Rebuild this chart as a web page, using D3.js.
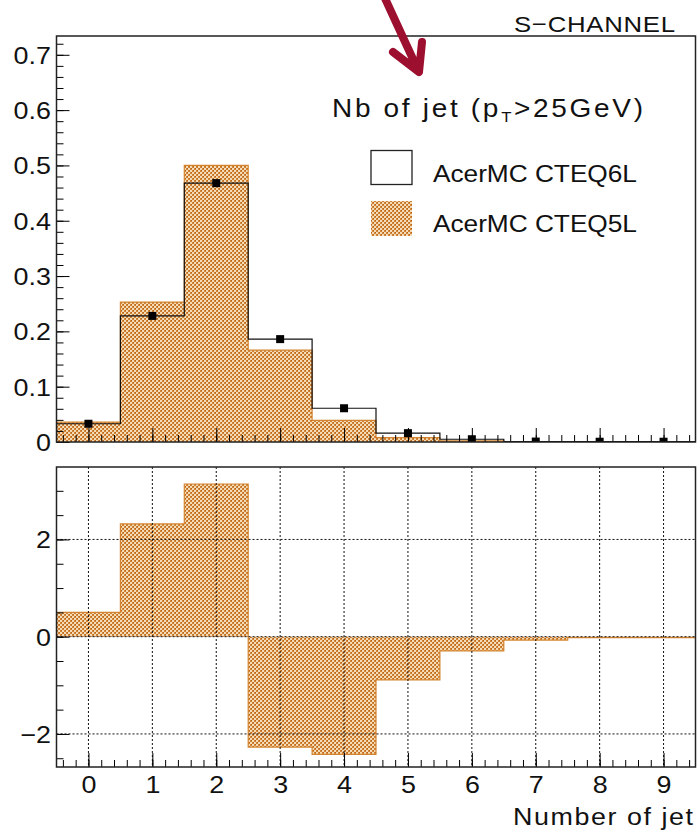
<!DOCTYPE html>
<html>
<head>
<meta charset="utf-8">
<script src="https://cdn.jsdelivr.net/npm/d3@7"></script>
<style>
body { margin: 0; background: #fff; }
text { font-family: "Liberation Sans", Arial, sans-serif; fill: #111; }
</style>
</head>
<body>
<svg id="chart" width="699" height="830"></svg>
<script>
// bins of jet multiplicity
var nJet = [0, 1, 2, 3, 4, 5, 6, 7, 8, 9];
// normalised distributions
var cteq6l = [0.033, 0.228, 0.468, 0.186, 0.061, 0.016, 0.005, 0.0008, 0.0005, 0.0005];
var cteq5l = [0.036, 0.253, 0.500, 0.166, 0.039, 0.008, 0.002, 0.0004, 0.0002, 0.0002];
// lower pad
var diff = [0.50, 2.32, 3.14, -2.27, -2.42, -0.89, -0.29, -0.07, -0.02, -0.02];

var topTicks = [0, 0.1, 0.2, 0.3, 0.4, 0.5, 0.6, 0.7];
var topTickLabels = ['0', '0.1', '0.2', '0.3', '0.4', '0.5', '0.6', '0.7'];
var botTicks = [-2, 0, 2];
var botTickLabels = ['\u22122', '0', '2'];

var WIDE = 1.12; // root's helvetica is wider than liberation

var svg = d3.select('#chart');
svg.append('rect').attr('width', 699).attr('height', 830).attr('fill', '#fff');

var defs = svg.append('defs');
var pat = defs.append('pattern')
	.attr('id', 'hatch')
	.attr('patternUnits', 'userSpaceOnUse')
	.attr('width', 4)
	.attr('height', 4);
pat.append('rect').attr('width', 4).attr('height', 4).attr('fill', '#d08236');
pat.append('rect').attr('x', 0).attr('y', 0).attr('width', 2).attr('height', 2).attr('fill', '#f4dcb6');
pat.append('rect').attr('x', 2).attr('y', 2).attr('width', 2).attr('height', 2).attr('fill', '#f4dcb6');
pat.append('rect').attr('x', 3).attr('y', 0).attr('width', 1).attr('height', 1).attr('fill', '#b8651c');
pat.append('rect').attr('x', 1).attr('y', 2).attr('width', 1).attr('height', 1).attr('fill', '#b8651c');

var x = d3.scaleLinear()
	.domain([-0.5, 9.5])
	.range([56.5, 695.5]);

var yTop = d3.scaleLinear()
	.domain([0, 0.734])
	.range([442, 36]);

var yBot = d3.scaleLinear()
	.domain([-2.68, 3.49])
	.range([767, 467]);

defs.append('clipPath').attr('id', 'clipTop')
	.append('rect').attr('x', x(-0.5)).attr('y', yTop(0.734))
	.attr('width', x(9.5) - x(-0.5)).attr('height', yTop(0) - yTop(0.734));
defs.append('clipPath').attr('id', 'clipBot')
	.append('rect').attr('x', x(-0.5)).attr('y', yBot(3.49))
	.attr('width', x(9.5) - x(-0.5)).attr('height', yBot(-2.68) - yBot(3.49));

// step points at bin edges
function stepPoints(vals) {
	var pts = [];
	for (var i = 0; i < vals.length; i++) {
		pts.push([nJet[i] - 0.5, vals[i]]);
		pts.push([nJet[i] + 0.5, vals[i]]);
	}
	return pts;
}

function withEnds(pts) {
	var out = [[pts[0][0], 0]].concat(pts);
	out.push([pts[pts.length - 1][0], 0]);
	return out;
}

// text stretched a bit horizontally, then spaced out to the wanted width
function wideText(px, py, size, width) {
	return svg.append('text')
		.attr('transform', 'translate(' + px + ',' + py + ') scale(' + WIDE + ',1)')
		.attr('font-size', size)
		.attr('textLength', width / WIDE)
		.attr('lengthAdjust', 'spacing');
}

function styleTickText(g) {
	g.selectAll('text')
		.attr('font-size', 24)
		.attr('font-family', '"Liberation Sans", Arial, sans-serif')
		.attr('transform', 'scale(' + WIDE + ',1)');
}

// ---------- top pad ----------
var gTop = svg.append('g').attr('clip-path', 'url(#clipTop)');

var areaTop = d3.area()
	.x(function(d) { return x(d[0]); })
	.y0(yTop(0))
	.y1(function(d) { return yTop(d[1]); });
var lineTop = d3.line()
	.x(function(d) { return x(d[0]); })
	.y(function(d) { return yTop(d[1]); });

gTop.append('path')
	.attr('d', areaTop(stepPoints(cteq5l)))
	.attr('fill', 'url(#hatch)');
gTop.append('path')
	.attr('d', lineTop(withEnds(stepPoints(cteq5l))))
	.attr('fill', 'none')
	.attr('stroke', '#d4842e')
	.attr('stroke-width', 1.2);
gTop.append('path')
	.attr('d', lineTop(withEnds(stepPoints(cteq6l))))
	.attr('fill', 'none')
	.attr('stroke', '#111')
	.attr('stroke-width', 1.2);
gTop.selectAll('rect.mk')
	.data(nJet)
	.enter().append('rect')
	.attr('class', 'mk')
	.attr('x', function(d) { return x(d) - 4; })
	.attr('y', function(d, i) { return yTop(cteq6l[i]) - 4; })
	.attr('width', 8)
	.attr('height', 8)
	.attr('fill', '#000');

// axes of top pad
var minorTopY = d3.range(0, 0.7301, 0.02);
var minorX = d3.range(-0.4, 9.41, 0.2);

var ax = svg.append('g').attr('transform', 'translate(' + x(-0.5) + ',0)')
	.call(d3.axisLeft(yTop).tickValues(minorTopY).tickSize(-7).tickSizeOuter(0).tickFormat(''));
ax.select('.domain').remove();
ax = svg.append('g').attr('transform', 'translate(' + x(-0.5) + ',0)')
	.call(d3.axisLeft(yTop).tickValues(topTicks).tickSize(-13).tickSizeOuter(0).tickPadding(5)
		.tickFormat(function(d, i) { return topTickLabels[i]; }));
styleTickText(ax);
ax.selectAll('text').attr('dy', '0.35em');
ax.select('.domain').remove();

ax = svg.append('g').attr('transform', 'translate(0,' + yTop(0) + ')')
	.call(d3.axisBottom(x).tickValues(minorX).tickSize(-7).tickSizeOuter(0).tickFormat(''));
ax.select('.domain').remove();
ax = svg.append('g').attr('transform', 'translate(0,' + yTop(0) + ')')
	.call(d3.axisBottom(x).tickValues(nJet).tickSize(-14).tickSizeOuter(0).tickFormat(''));
ax.select('.domain').remove();

svg.append('rect')
	.attr('x', x(-0.5)).attr('y', yTop(0.734))
	.attr('width', x(9.5) - x(-0.5)).attr('height', yTop(0) - yTop(0.734))
	.attr('fill', 'none').attr('stroke', '#222').attr('stroke-width', 1.5);

// legend
wideText(332, 117, 25, 311)
	.html('Nb of jet (p<tspan font-size="15" dy="5">T</tspan><tspan dy="-5">&gt;25GeV)</tspan>');

svg.append('rect')
	.attr('x', 371).attr('y', 150.5).attr('width', 41).attr('height', 34)
	.attr('fill', '#fff').attr('stroke', '#222').attr('stroke-width', 1.3);
svg.append('rect')
	.attr('x', 371).attr('y', 201).attr('width', 41).attr('height', 35)
	.attr('fill', 'url(#hatch)');
wideText(433, 182, 23.5, 204).text('AcerMC CTEQ6L');
wideText(433, 232, 23.5, 204).text('AcerMC CTEQ5L');

wideText(514, 32, 23, 161).text('S\u2212CHANNEL');

// ---------- bottom pad ----------
var gBot = svg.append('g').attr('clip-path', 'url(#clipBot)');

var areaBot = d3.area()
	.x(function(d) { return x(d[0]); })
	.y0(yBot(0))
	.y1(function(d) { return yBot(d[1]); });
var lineBot = d3.line()
	.x(function(d) { return x(d[0]); })
	.y(function(d) { return yBot(d[1]); });

gBot.append('path')
	.attr('d', areaBot(stepPoints(diff)))
	.attr('fill', 'url(#hatch)');
gBot.append('path')
	.attr('d', lineBot(withEnds(stepPoints(diff))))
	.attr('fill', 'none')
	.attr('stroke', '#d4842e')
	.attr('stroke-width', 1.2);

// grid
gBot.selectAll('line.gx')
	.data(nJet)
	.enter().append('line')
	.attr('class', 'gx')
	.attr('x1', function(d) { return x(d); }).attr('x2', function(d) { return x(d); })
	.attr('y1', yBot(3.49)).attr('y2', yBot(-2.68))
	.attr('stroke', '#111').attr('stroke-width', 1).attr('stroke-dasharray', '2,2');
gBot.selectAll('line.gy')
	.data(botTicks)
	.enter().append('line')
	.attr('class', 'gy')
	.attr('x1', x(-0.5)).attr('x2', x(9.5))
	.attr('y1', function(d) { return yBot(d); }).attr('y2', function(d) { return yBot(d); })
	.attr('stroke', '#111').attr('stroke-width', 1).attr('stroke-dasharray', '2,2');

var minorBotY = d3.range(-2.5, 3.01, 0.5);
ax = svg.append('g').attr('transform', 'translate(' + x(-0.5) + ',0)')
	.call(d3.axisLeft(yBot).tickValues(minorBotY).tickSize(-7).tickSizeOuter(0).tickFormat(''));
ax.select('.domain').remove();
ax = svg.append('g').attr('transform', 'translate(' + x(-0.5) + ',0)')
	.call(d3.axisLeft(yBot).tickValues(botTicks).tickSize(-13).tickSizeOuter(0).tickPadding(5)
		.tickFormat(function(d, i) { return botTickLabels[i]; }));
styleTickText(ax);
ax.selectAll('text').attr('dy', '0.35em');
ax.select('.domain').remove();

ax = svg.append('g').attr('transform', 'translate(0,' + yBot(-2.68) + ')')
	.call(d3.axisBottom(x).tickValues(minorX).tickSize(-7).tickSizeOuter(0).tickFormat(''));
ax.select('.domain').remove();
ax = svg.append('g').attr('transform', 'translate(0,' + yBot(-2.68) + ')')
	.call(d3.axisBottom(x).tickValues(nJet).tickSize(-14).tickSizeOuter(0).tickPadding(9));
styleTickText(ax);
ax.select('.domain').remove();

svg.append('rect')
	.attr('x', x(-0.5)).attr('y', yBot(3.49))
	.attr('width', x(9.5) - x(-0.5)).attr('height', yBot(-2.68) - yBot(3.49))
	.attr('fill', 'none').attr('stroke', '#222').attr('stroke-width', 1.5);

wideText(513, 825, 24, 180).text('Number of jet');

// red arrow pointing at the title
svg.append('path')
	.attr('d', 'M383,-6 L418,70 M393,52 L419,72 L422,42')
	.attr('fill', 'none')
	.attr('stroke', '#9c0f2f')
	.attr('stroke-width', 8)
	.attr('stroke-linecap', 'round')
	.attr('stroke-linejoin', 'round');
</script>
</body>
</html>
